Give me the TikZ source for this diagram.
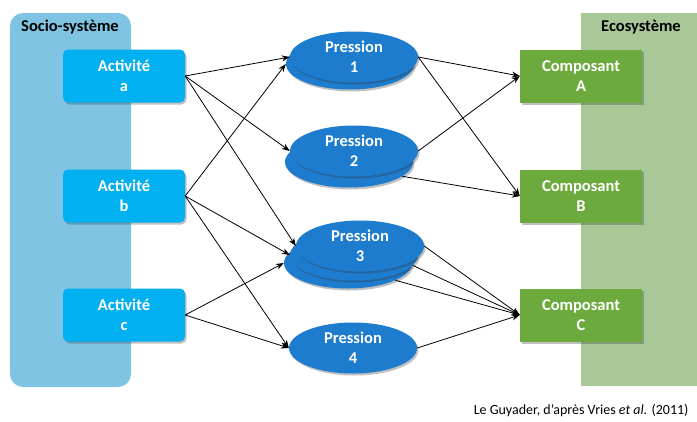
\documentclass[tikz,border=0pt]{standalone}
\usepackage{fontspec}
\setmainfont{Carlito}
\usetikzlibrary{shapes.geometric,shadows,arrows.meta}
\definecolor{sociobg}{RGB}{128,196,228}
\definecolor{ecobg}{RGB}{168,200,152}
\definecolor{actcol}{RGB}{0,176,240}
\definecolor{compcol}{RGB}{108,170,62}
\definecolor{prescol}{RGB}{30,124,206}
\tikzset{
  shade/.style={drop shadow={shadow xshift=1.5pt,shadow yshift=-2pt,opacity=0.3,fill=black!80}},
  actbox/.style={rectangle,rounded corners=5pt,fill=actcol,minimum width=122pt,minimum height=53pt,text=white,font=\fontsize{16.5}{20}\selectfont\bfseries,align=center,shade},
  compbox/.style={rectangle,fill=compcol,minimum width=122pt,minimum height=53pt,text=white,font=\fontsize{16.5}{20}\selectfont\bfseries,align=center,shade},
  presell/.style={ellipse,fill=prescol,minimum width=128pt,minimum height=51pt,inner sep=0pt,text=white,font=\fontsize{16.5}{20}\selectfont\bfseries,align=center,shade},
  link/.style={draw=black,line width=0.8pt,-{Stealth[length=8pt,width=6pt]}},
  paneltitle/.style={font=\fontsize{16.5}{19}\selectfont\bfseries,text=black}
}
\begin{document}
\begin{tikzpicture}[x=1pt,y=-1pt]
\useasboundingbox (0,0) rectangle (697,421);
\fill[white] (0,0) rectangle (697,421);
% panels
\fill[sociobg,rounded corners=13pt] (10,13) rectangle (131,387);
\fill[ecobg] (581,13) rectangle (697,386);
\node[paneltitle] (socio) at (70,27) {Socio-système};
\node[paneltitle] (eco) at (641,27) {Ecosystème};
% activities
\node[actbox] (a) at (124,76) {Activité\\a};
\node[actbox] (b) at (124,196) {Activité\\b};
\node[actbox] (c) at (124,315) {Activité\\c};
% composants
\node[compbox] (A) at (581,76) {Composant\\A};
\node[compbox] (B) at (581,196) {Composant\\B};
\node[compbox] (C) at (581,315) {Composant\\C};
% pressions
\node[presell] (p1b) at (350,64) {};
\node[presell] (p1) at (354,57) {Pression\\1};
\node[presell] (p2b) at (349,162) {};
\node[presell] (p2) at (354,151) {Pression\\2};
\node[presell] (p3c) at (348,263) {};
\node[presell] (p3b) at (354,255) {};
\node[presell] (p3a) at (360,246) {Pression\\3};
\node[presell] (p4) at (353,348) {Pression\\4};
% activity -> pression
\draw[link] (a.east) -- (p1.west);
\draw[link] (a.east) -- (p2.west);
\draw[link] (a.east) -- (p3a.west);
\draw[link] (b.east) -- (p1b.west);
\draw[link] (b.east) -- (p3b.west);
\draw[link] (b.east) -- (p4.west);
\draw[link] (c.east) -- (p3c.west);
\draw[link] (c.east) -- (p4.west);
% pression -> composant
\draw[link] (p1.east) -- (A.west);
\draw[link] (p1.east) -- (B.west);
\draw[link] (p2.east) -- (A.west);
\draw[link] (p2b.-15) -- (B.west);
\draw[link] (p3a.east) -- (C.west);
\draw[link] (p3b.-10) -- (C.west);
\draw[link] (p3c.-20) -- (C.west);
\draw[link] (p4.east) -- (C.west);
% credit
\node[anchor=east,font=\fontsize{14}{16}\selectfont] (credit) at (692,411) {Le Guyader, d’après Vries \textit{et al.} (2011)};
\end{tikzpicture}
\end{document}
